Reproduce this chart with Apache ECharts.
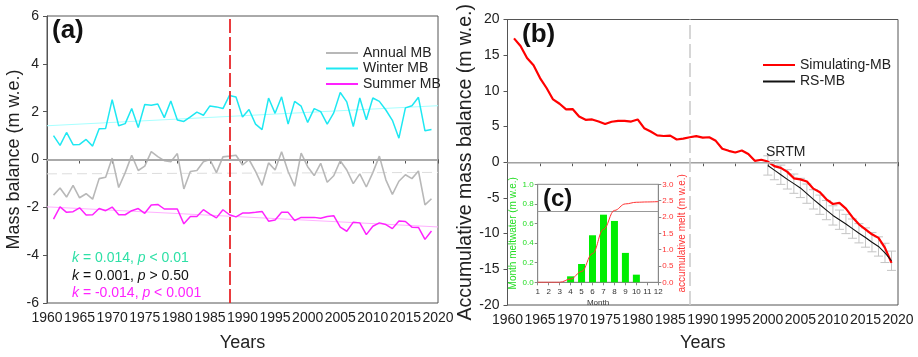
<!DOCTYPE html>
<html>
<head>
<meta charset="utf-8">
<script src="https://cdn.jsdelivr.net/npm/echarts@6/dist/echarts.min.js"></script>
<style>html,body{margin:0;padding:0;background:#fff}#c{width:918px;height:357px}</style>
</head>
<body>
<div id="c"></div>
<script>
// ---- Data ----
const years = Array.from({length: 59}, (_, i) => 1961 + i);
const annualMB = [-1.49,-1.19,-1.57,-1.08,-1.60,-1.43,-1.66,-0.80,-0.74,0.06,
  -1.17,-0.55,0.18,-0.46,-0.28,0.33,0.12,-0.05,-0.09,0.25,
  -1.23,-0.50,-0.46,-0.09,0.00,-0.55,0.11,0.14,0.18,-0.23,
  0.00,-0.50,-1.08,-0.14,-0.44,0.32,-0.50,-1.12,0.27,-0.30,
  -0.67,-0.16,-0.95,-0.68,-0.05,-0.44,-1.01,-0.60,-1.15,-0.55,
  0.14,-0.85,-1.46,-0.91,-0.64,-0.80,-0.48,-1.90,-1.64];
const winterMB = [1.00,0.59,1.13,0.62,0.63,0.84,0.56,1.29,1.30,2.50,
  1.41,1.50,2.13,1.34,2.30,2.27,2.32,1.75,2.45,1.65,
  1.59,1.78,1.98,1.85,2.24,2.20,2.13,2.68,2.61,1.78,
  2.09,1.48,1.25,2.57,1.93,2.62,1.48,2.43,2.23,1.55,
  2.13,2.00,1.48,1.95,2.80,2.41,1.38,2.57,1.66,2.57,
  2.43,2.07,1.64,0.89,2.16,2.25,2.60,1.20,1.25];
const summerMB = [-2.49,-1.98,-2.21,-2.18,-2.02,-2.32,-2.31,-2.05,-2.14,-1.99,
  -2.31,-2.31,-2.14,-2.05,-2.25,-1.90,-1.88,-2.07,-2.07,-2.07,
  -2.69,-2.38,-2.38,-2.10,-2.28,-2.44,-2.10,-2.31,-2.40,-2.24,
  -2.24,-2.21,-2.17,-2.58,-2.53,-2.21,-2.21,-2.55,-2.42,-2.42,
  -2.42,-2.46,-2.38,-2.35,-2.83,-3.00,-2.62,-2.65,-3.14,-2.79,
  -2.65,-2.72,-2.89,-2.57,-2.59,-2.83,-2.84,-3.34,-2.99];
// trend line end points [year, value]
const winterTrend = [[1960, 1.41], [2020, 2.25]];
const annualTrend = [[1960, -0.60], [2020, -0.54]];
const summerTrend = [[1960, -1.98], [2020, -2.82]];

const simulatingMB = [17.36,16.3,14.6,13.6,11.8,10.4,8.8,8.2,7.4,7.45,
  6.4,5.95,6.0,5.7,5.35,5.67,5.8,5.8,5.7,6.0,
  4.77,4.3,3.77,3.68,3.73,3.19,3.32,3.5,3.65,3.45,
  3.5,3.0,1.9,1.6,1.37,1.65,1.15,0.2,0.35,0.1,
  -0.55,-0.78,-1.35,-2.25,-2.4,-2.7,-3.7,-4.2,-5.2,-5.85,
  -5.7,-6.5,-7.7,-8.7,-9.4,-10.1,-10.6,-12.0,-14.1];
const rsYears = Array.from({length: 20}, (_, i) => 2000 + i);
const rsMB = [-0.45,-1.1,-1.75,-2.4,-3.0,-3.6,-4.4,-5.2,-5.95,-6.7,
  -7.45,-8.05,-8.65,-9.3,-9.95,-10.55,-11.2,-11.8,-12.7,-13.8];
const rsErr = [1.35,1.35,1.35,1.35,1.35,1.35,1.35,1.35,1.35,1.35,
  1.35,1.35,1.35,1.35,1.35,1.35,1.35,1.35,1.35,1.35];

const months = [4,5,6,7,8,9,10];
const monthMelt = [0.061,0.187,0.48,0.69,0.626,0.30,0.078];
const cumMonths = [1,2,3,4,5,6,7,8,9,10,11,12];
const cumMelt = [0,0,0,0.1,0.33,0.88,1.62,2.2,2.4,2.45,2.46,2.47];

// ---- Chart ----
const FONT = 'Liberation Sans, Arial, sans-serif';
const chart = echarts.init(document.getElementById('c'), null, {renderer: 'canvas'});
const pair = (xs, ys) => xs.map((x, i) => [x, ys[i]]);

const axisBase = {
  axisLine: {show: true, lineStyle: {color: '#555', width: 1}},
  axisTick: {show: true, inside: false, length: 4, lineStyle: {color: '#555'}},
  splitLine: {show: false},
  axisLabel: {color: '#222', fontSize: 14, fontFamily: FONT, showMinLabel: true, showMaxLabel: true,
    formatter: v => String(v)}
};

const option = {
  animation: false,
  backgroundColor: '#fff',
  textStyle: {fontFamily: FONT},
  grid: [
    {left: 47, top: 16, right: 480, bottom: 47, show: true, borderColor: '#555', borderWidth: 1},
    {left: 507.5, top: 19.5, right: 20, bottom: 43, show: true, borderColor: '#555', borderWidth: 1},
    {left: 537.7, top: 184.3, right: 259.7, bottom: 74.7, show: true, borderColor: '#888', borderWidth: 1, backgroundColor: '#fff'}
  ],
  xAxis: [
    Object.assign({}, axisBase, {gridIndex: 0, type: 'value', min: 1960, max: 2020, interval: 5,
      axisLabel: Object.assign({}, axisBase.axisLabel, {margin: 8}),
      name: 'Years', nameLocation: 'middle', nameGap: 31,
      nameTextStyle: {fontSize: 18, color: '#222', fontFamily: FONT}}),
    Object.assign({}, axisBase, {gridIndex: 1, type: 'value', min: 1960, max: 2020, interval: 5,
      axisLabel: Object.assign({}, axisBase.axisLabel, {margin: 8}),
      name: 'Years', nameLocation: 'middle', nameGap: 29,
      nameTextStyle: {fontSize: 18, color: '#222', fontFamily: FONT}}),
    {gridIndex: 2, type: 'value', min: 1, max: 12, interval: 1,
      axisLine: {show: true, lineStyle: {color: '#888'}},
      axisTick: {show: true, length: 3, lineStyle: {color: '#888'}},
      splitLine: {show: false},
      axisLabel: {fontSize: 8, color: '#333', margin: 5, fontFamily: FONT},
      name: 'Month', nameLocation: 'middle', nameGap: 16,
      nameTextStyle: {fontSize: 8, color: '#333', fontFamily: FONT}}
  ],
  yAxis: [
    Object.assign({}, axisBase, {gridIndex: 0, type: 'value', min: -6, max: 6, interval: 2,
      name: 'Mass balance (m w.e.)', nameLocation: 'middle', nameGap: 22,
      nameTextStyle: {fontSize: 18, color: '#222', fontFamily: FONT}}),
    Object.assign({}, axisBase, {gridIndex: 1, type: 'value', min: -20, max: 20, interval: 5,
      name: 'Accumulative mass balance (m w.e.)', nameLocation: 'middle', nameGap: 29,
      nameTextStyle: {fontSize: 19.5, color: '#222', fontFamily: FONT}}),
    {gridIndex: 2, type: 'value', min: 0, max: 1, interval: 0.2,
      axisLine: {show: true, lineStyle: {color: '#888'}},
      axisTick: {show: true, length: 3, lineStyle: {color: '#888'}},
      splitLine: {show: false},
      axisLabel: {fontSize: 8, color: '#22dd22', margin: 4, fontFamily: FONT, formatter: v => v.toFixed(1)},
      name: 'Month meltwater (m w.e.)', nameLocation: 'middle', nameGap: 17,
      nameTextStyle: {fontSize: 10, color: '#22dd22', fontFamily: FONT}},
    {gridIndex: 2, type: 'value', min: 0, max: 3, interval: 0.5, position: 'right',
      axisLine: {show: true, lineStyle: {color: '#888'}},
      axisTick: {show: true, length: 3, lineStyle: {color: '#888'}},
      splitLine: {show: false},
      axisLabel: {fontSize: 8, color: '#ff3333', margin: 4, fontFamily: FONT, formatter: v => v.toFixed(1)},
      name: 'accumulative melt (m w.e.)', nameLocation: 'middle', nameGap: 19, nameRotate: 90,
      nameTextStyle: {fontSize: 10, color: '#ff3333', fontFamily: FONT}}
  ],
  legend: [
    {data: [
        {name: 'Annual MB', icon: 'rect', itemStyle: {color: '#b8b8b8'}},
        {name: 'Winter MB', icon: 'rect', itemStyle: {color: '#1ee8f2'}},
        {name: 'Summer MB', icon: 'rect', itemStyle: {color: '#ff22ff'}}],
      orient: 'vertical', left: 321, top: 41,
      itemWidth: 32, itemHeight: 2, itemGap: 1.5,
      textStyle: {fontSize: 14, color: '#222', fontFamily: FONT}, selectedMode: false},
    {data: [
        {name: 'Simulating-MB', icon: 'rect', itemStyle: {color: '#ff0000'}},
        {name: 'RS-MB', icon: 'rect', itemStyle: {color: '#111111'}}],
      orient: 'vertical', left: 758, top: 53,
      itemWidth: 32, itemHeight: 2, itemGap: 2.5,
      textStyle: {fontSize: 14, color: '#222', fontFamily: FONT}, selectedMode: false}
  ],
  series: [
    // panel (a)
    {name: 'Winter trend', type: 'line', xAxisIndex: 0, yAxisIndex: 0, data: winterTrend,
      symbol: 'none', lineStyle: {color: '#a8ffff', width: 1}, z: 1, silent: true},
    {name: 'Annual trend', type: 'line', xAxisIndex: 0, yAxisIndex: 0, data: annualTrend,
      symbol: 'none', lineStyle: {color: '#dddddd', width: 1, type: [10, 5]}, z: 1, silent: true},
    {name: 'Summer trend', type: 'line', xAxisIndex: 0, yAxisIndex: 0, data: summerTrend,
      symbol: 'none', lineStyle: {color: '#ffb0ff', width: 1}, z: 1, silent: true},
    {name: 'Annual MB', type: 'line', xAxisIndex: 0, yAxisIndex: 0, data: pair(years, annualMB),
      symbol: 'none', itemStyle: {color: '#b8b8b8'}, lineStyle: {color: '#b8b8b8', width: 1.6}, z: 3,
      markLine: {silent: true, symbol: 'none', label: {show: false},
        data: [
          {yAxis: 0, lineStyle: {color: '#aaaaaa', width: 2, type: 'solid'}},
          {xAxis: 1988, lineStyle: {color: '#e8262a', width: 1.8, type: [14, 4]}}
        ]}},
    {name: 'Winter MB', type: 'line', xAxisIndex: 0, yAxisIndex: 0, data: pair(years, winterMB),
      symbol: 'none', itemStyle: {color: '#1ee8f2'}, lineStyle: {color: '#1ee8f2', width: 1.5}, z: 3},
    {name: 'Summer MB', type: 'line', xAxisIndex: 0, yAxisIndex: 0, data: pair(years, summerMB),
      symbol: 'none', itemStyle: {color: '#ff22ff'}, lineStyle: {color: '#ff22ff', width: 1.5}, z: 3},
    // panel (b)
    {name: 'RS error', type: 'custom', xAxisIndex: 1, yAxisIndex: 1, silent: true, z: 2,
      data: rsYears.map((y, i) => [y, rsMB[i] - rsErr[i], rsMB[i] + rsErr[i]]),
      renderItem: function (params, api) {
        const x = api.value(0);
        const lo = api.coord([x, api.value(1)]);
        const hi = api.coord([x, api.value(2)]);
        const w = 4.5;
        const st = {stroke: '#c4c4c4', lineWidth: 1};
        return {type: 'group', children: [
          {type: 'line', shape: {x1: hi[0], y1: hi[1], x2: lo[0], y2: lo[1]}, style: st},
          {type: 'line', shape: {x1: hi[0] - w, y1: hi[1], x2: hi[0] + w, y2: hi[1]}, style: st},
          {type: 'line', shape: {x1: lo[0] - w, y1: lo[1], x2: lo[0] + w, y2: lo[1]}, style: st}
        ]};
      }},
    {name: 'Simulating-MB', type: 'line', xAxisIndex: 1, yAxisIndex: 1, data: pair(years, simulatingMB),
      symbol: 'none', itemStyle: {color: '#ff0000'}, lineStyle: {color: '#ff0000', width: 2.2}, z: 4,
      markLine: {silent: true, symbol: 'none', label: {show: false},
        data: [
          {yAxis: 0, lineStyle: {color: '#bdbdbd', width: 1.5, type: 'solid'}},
          {xAxis: 1988, lineStyle: {color: '#cccccc', width: 1.6, type: [14, 5]}}
        ]}},
    {name: 'RS-MB', type: 'line', xAxisIndex: 1, yAxisIndex: 1, data: pair(rsYears, rsMB),
      symbol: 'none', itemStyle: {color: '#111'}, lineStyle: {color: '#111', width: 1.1}, z: 5},
    // inset (c)
    {name: 'Month meltwater', type: 'bar', xAxisIndex: 2, yAxisIndex: 2, data: pair(months, monthMelt),
      barWidth: 7, itemStyle: {color: '#00ee00'}, z: 6,
      markLine: {silent: true, symbol: 'none', label: {show: false},
        data: [{yAxis: 0.72, lineStyle: {color: '#999', width: 1, type: 'solid'}}]}},
    {name: 'Accumulative melt', type: 'line', xAxisIndex: 2, yAxisIndex: 3, data: pair(cumMonths, cumMelt),
      symbol: 'none', smooth: 0.4, smoothMonotone: 'x', lineStyle: {color: '#ff3333', width: 1}, z: 7}
  ],
  graphic: [
    {type: 'text', left: 52, top: 18, z: 100,
      style: {text: '(a)', font: 'bold 26px ' + FONT, fill: '#111'}},
    {type: 'text', left: 522, top: 22, z: 100,
      style: {text: '(b)', font: 'bold 26px ' + FONT, fill: '#111'}},
    {type: 'text', left: 543, top: 187, z: 100,
      style: {text: '(c)', font: 'bold 24px ' + FONT, fill: '#111'}},
    {type: 'text', left: 766, top: 145, z: 100,
      style: {text: 'SRTM', font: '14px ' + FONT, fill: '#222'}},
    {type: 'text', left: 72, top: 251, z: 100,
      style: {text: '{i|k} = 0.014, {i|p} < 0.01', font: '14px ' + FONT, fill: '#2ee0a6',
        rich: {i: {fontStyle: 'italic', fontSize: 14, fontFamily: FONT, fill: '#2ee0a6'}}}},
    {type: 'text', left: 72, top: 269, z: 100,
      style: {text: '{i|k} = 0.001, {i|p} > 0.50', font: '14px ' + FONT, fill: '#111',
        rich: {i: {fontStyle: 'italic', fontSize: 14, fontFamily: FONT, fill: '#111'}}}},
    {type: 'text', left: 72, top: 286, z: 100,
      style: {text: '{i|k} = -0.014, {i|p} < 0.001', font: '14px ' + FONT, fill: '#ff22ff',
        rich: {i: {fontStyle: 'italic', fontSize: 14, fontFamily: FONT, fill: '#ff22ff'}}}}
  ]
};
chart.setOption(option);
</script>
</body>
</html>
